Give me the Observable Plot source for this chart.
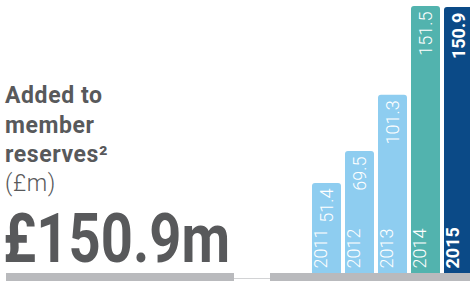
<!DOCTYPE html>
<html><head><meta charset="utf-8">
<script src="https://cdn.jsdelivr.net/npm/d3@7"></script>
<script src="https://cdn.jsdelivr.net/npm/@observablehq/plot@0.6"></script>
<style>
html,body{margin:0;padding:0;overflow:hidden;background:#fff;}
#wrap{position:relative;width:470px;height:281px;overflow:hidden;}
#chart{position:absolute;left:0;top:0;width:477px;}
.band{position:absolute;background:#b9babd;}
#txt{position:absolute;left:0;top:0;}
</style></head><body>
<div id="wrap">
<div id="chart"></div>
<div class="band" style="left:6px;top:273px;width:228px;height:8px"></div>
<div class="band" style="left:270px;top:273px;width:200px;height:8px"></div>
<div style="position:absolute;left:234px;top:277.5px;width:36px;height:1.5px;background:#d2d3d5"></div>
</div>
<script>
const years = ["2011", "2012", "2013", "2014", "2015"];
const values = [51.4, 69.5, 101.3, 151.5, 150.9];
const highlight = "2015";
const titleLines = ["Added to", "member", "reserves\u00B2"];
const unitLabel = "(\u00A3m)";

const palette = ["#8ecdf0", "#8ecdf0", "#8ecdf0", "#52b3ae", "#0b4a87"];
const data = years.map((y, i) => ({year: y, value: values[i]}));
const normal = data.filter(d => d.year !== highlight);
const bold = data.filter(d => d.year === highlight);
const font = "Roboto, 'Open Sans', sans-serif";

const plot = Plot.plot({
  width: 477, height: 281,
  marginLeft: 308, marginRight: 0, marginTop: 6, marginBottom: 7,
  style: {fontFamily: font, background: "transparent", maxWidth: "none"},
  x: {domain: years, padding: 0.12, axis: null},
  y: {domain: [0, d3.max(values)], axis: null},
  color: {domain: years, range: palette},
  marks: [
    Plot.barY(data, {x: "year", y: "value", fill: "year", rx: 3}),
    Plot.barY(data, {x: "year", y: "value", fill: "year", insetTop: 6}),
    Plot.text(normal, {x: "year", y: "value", text: d => d.value.toFixed(1), rotate: -90, textAnchor: "end", dy: 5, fill: "white", fontSize: 18, fontWeight: 300}),
    Plot.text(normal, {x: "year", frameAnchor: "bottom", text: "year", rotate: -90, textAnchor: "start", dy: -6, fill: "white", fontSize: 18, fontWeight: 300}),
    Plot.text(bold, {x: "year", y: "value", text: d => d.value.toFixed(1), rotate: -90, textAnchor: "end", dy: 5, fill: "white", fontSize: 18, fontWeight: 700}),
    Plot.text(bold, {x: "year", frameAnchor: "bottom", text: "year", rotate: -90, textAnchor: "start", dy: -6, fill: "white", fontSize: 18, fontWeight: 700})
  ]
});
document.getElementById("chart").appendChild(plot);

// left-hand headline text
const svg = d3.select("#wrap").append("svg").attr("id", "txt").attr("width", 300).attr("height", 281);
const col = "#58595b";
const baselines = [103, 133, 162];
titleLines.forEach((t, i) => {
  svg.append("text").attr("x", 5).attr("y", baselines[i]).text(t)
    .attr("font-family", font).attr("font-weight", 700).attr("font-size", 23)
    .attr("letter-spacing", 0.6).attr("fill", col);
});
svg.append("text").attr("x", 5).attr("y", 191).text(unitLabel)
  .attr("font-family", font).attr("font-weight", 300).attr("font-size", 23)
  .attr("letter-spacing", 0.6).attr("fill", col);
const hl = values[years.indexOf(highlight)];
svg.append("text").attr("x", 3).attr("y", 262).text("\u00A3" + hl.toFixed(1) + "m")
  .attr("font-family", font).attr("font-weight", 700).attr("font-size", 68).attr("fill", col)
  .attr("textLength", 227).attr("lengthAdjust", "spacingAndGlyphs");
</script>
</body></html>
